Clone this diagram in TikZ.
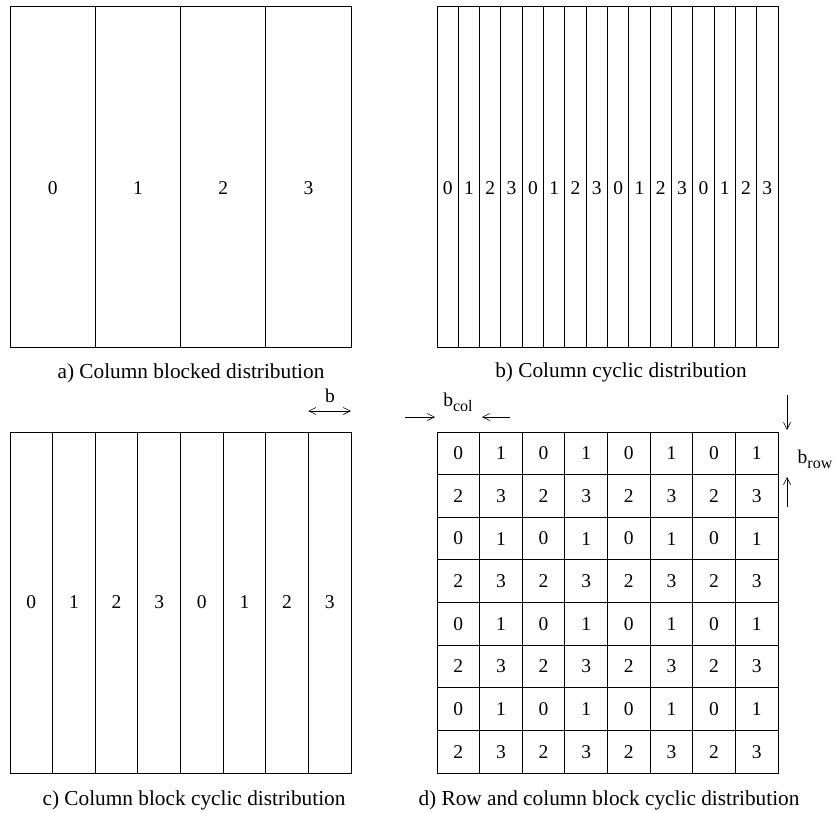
\documentclass[tikz,border=0pt]{standalone}
\usepackage{fontspec}
\setmainfont{Liberation Serif}
\usetikzlibrary{arrows.meta,positioning}
\newcommand{\lowsub}[1]{\raisebox{-0.6ex}{\fontsize{16}{16}\selectfont #1}}

\begin{document}
\begin{tikzpicture}[
  x=1pt,y=-1pt,
  font=\fontsize{19.5}{22}\selectfont,
  line width=0.9pt,
  blk/.style={draw,inner sep=0pt,outer sep=0pt,anchor=north west,minimum width=#1,minimum height=341pt},
  tall/.style={text height=35pt,text depth=0pt},
  sq/.style={draw,inner sep=0pt,outer sep=0pt,anchor=north west,minimum width=42.625pt,minimum height=42.625pt},
  caption/.style={inner sep=0pt,font=\fontsize{21.3}{24}\selectfont},
  lbl/.style={inner sep=0pt},
  tip/.tip={Straight Barb[length=7pt,width=7pt]},
  dim/.style={-tip,line width=0.6pt},
]
\useasboundingbox (0,0) rectangle (838,812);

% a) column blocked
\foreach \i in {0,...,3}
  \node[blk=85.25pt,tall] (a\i) at (10+85.25*\i,6) {\i};
\node[caption] (capa) at (191,373) {a) Column blocked distribution};

% b) column cyclic
\foreach \i in {0,...,15}{
  \pgfmathtruncatemacro{\p}{mod(\i,4)}
  \node[blk=21.3125pt,tall] (b\i) at (437+21.3125*\i,6) {\p};
}
\node[caption] (capb) at (621,372) {b) Column cyclic distribution};

% c) column block cyclic
\foreach \i in {0,...,7}{
  \pgfmathtruncatemacro{\p}{mod(\i,4)}
  \node[blk=42.625pt] (c\i) at (10+42.625*\i,432) {\p};
}
\node[caption] (capc) at (194,800) {c) Column block cyclic distribution};

% block width b
\coordinate (bl) at (c7.north west |- 0,411);
\coordinate (br) at (c7.north east |- 0,411);
\draw[dim,tip-tip] (bl) -- (br);
\node[lbl] (lb) at (330,396) {b};

% d) row and column block cyclic
\foreach \r in {0,...,7}
  \foreach \c in {0,...,7}{
    \pgfmathtruncatemacro{\p}{2*mod(\r,2)+mod(\c,2)}
    \node[sq] (d\r\c) at (437+42.625*\c,432+42.625*\r) {\p};
  }
\node[caption] (capd) at (609,800) {d) Row and column block cyclic distribution};

% b_col
\node[lbl] (lcol) at (458,402) {b\lowsub{col}};
\coordinate (cl0) at (405,417);
\coordinate (cl1) at (435,417);
\coordinate (cr0) at (510,417);
\coordinate (cr1) at (482,417);
\draw[dim] (cl0) -- (cl1);
\draw[dim] (cr0) -- (cr1);

% b_row
\node[lbl] (lrow) at (815,459) {b\lowsub{row}};
\coordinate (rt0) at (787,395);
\coordinate (rt1) at (787,430);
\coordinate (rb0) at (787,507);
\coordinate (rb1) at (787,477);
\draw[dim] (rt0) -- (rt1);
\draw[dim] (rb0) -- (rb1);
\end{tikzpicture}
\end{document}
